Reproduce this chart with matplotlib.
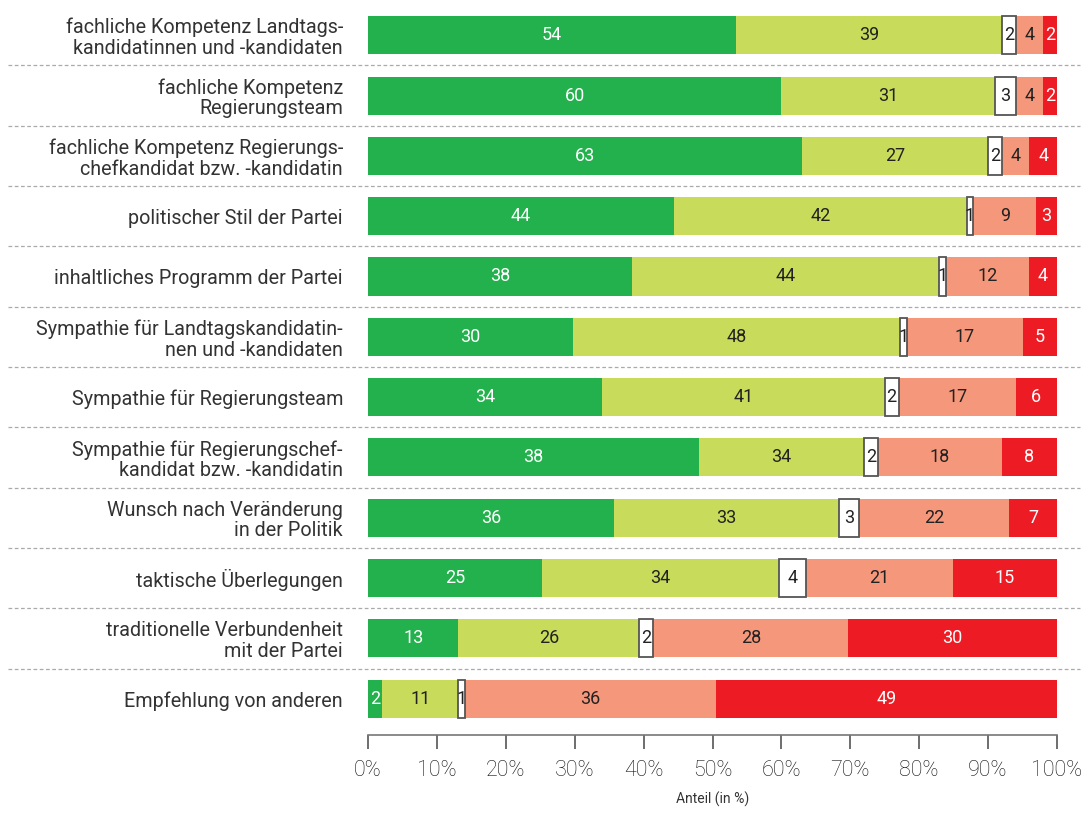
import matplotlib
matplotlib.use("Agg")
from matplotlib import pyplot as plt
import numpy as np

plt.rcParams['font.family'] = ['Roboto', 'DejaVu Sans']

categories = [
    "fachliche Kompetenz Landtags-\nkandidatinnen und -kandidaten",
    "fachliche Kompetenz\nRegierungsteam",
    "fachliche Kompetenz Regierungs-\nchefkandidat bzw. -kandidatin",
    "politischer Stil der Partei",
    "inhaltliches Programm der Partei",
    "Sympathie für Landtagskandidatin-\nnen und -kandidaten",
    "Sympathie für Regierungsteam",
    "Sympathie für Regierungschef-\nkandidat bzw. -kandidatin",
    "Wunsch nach Veränderung\nin der Politik",
    "taktische Überlegungen",
    "traditionelle Verbundenheit\nmit der Partei",
    "Empfehlung von anderen",
]

# printed values
sehr_wichtig = [54, 60, 63, 44, 38, 30, 34, 38, 36, 25, 13, 2]
eher_wichtig = [39, 31, 27, 42, 44, 48, 41, 34, 33, 34, 26, 11]
weiss_nicht = [2, 3, 2, 1, 1, 1, 2, 2, 3, 4, 2, 1]
eher_unwichtig = [4, 4, 4, 9, 12, 17, 17, 18, 22, 21, 28, 36]
unwichtig = [2, 2, 4, 3, 4, 5, 6, 8, 7, 15, 30, 49]

# bar lengths as drawn in the original (row 8 differs from its labels)
drawn_sehr = [54, 60, 63, 44, 38, 30, 34, 48, 36, 25, 13, 2]
drawn_eher = [39, 31, 27, 42, 44, 48, 41, 24, 33, 34, 26, 11]

ticks = [0, 10, 20, 30, 40, 50, 60, 70, 80, 90, 100]
xlabel = "Anteil (in %)"

colors = ['#22b14c', '#c8db5b', '#ffffff', '#f5977a', '#ed1c24']
text_colors = ['white', '#222222', '#222222', '#222222', 'white']

labels = [sehr_wichtig, eher_wichtig, weiss_nicht, eher_unwichtig, unwichtig]
widths = np.array([drawn_sehr, drawn_eher, weiss_nicht, eher_unwichtig, unwichtig], dtype=float)
widths = widths / widths.sum(axis=0) * 100

fig = plt.figure(figsize=(10.85, 8.13), dpi=100)
ax = fig.add_axes([368 / 1085, 78 / 813, 689 / 1085, 733 / 813])

y = np.arange(len(categories))
left = np.zeros(len(categories))
for k in range(5):
    if k == 2:
        ax.barh(y, widths[k], left=left, height=0.63, color=colors[k],
                edgecolor='#555555', linewidth=1.3, zorder=3)
    else:
        ax.barh(y, widths[k], left=left, height=0.63, color=colors[k],
                linewidth=0, zorder=2)
    for i in range(len(categories)):
        ax.text(left[i] + widths[k][i] / 2, y[i], str(labels[k][i]),
                ha='center', va='center', fontsize=13,
                color=text_colors[k], zorder=4)
    left += widths[k]

# dashed separators between rows
for i in range(len(categories) - 1):
    ax.axhline(i + 0.5, xmin=(8 - 368) / 689, xmax=(1080 - 368) / 689,
               color='#aaaaaa', linestyle=(0, (3, 2)), linewidth=0.9,
               clip_on=False)

ax.set_xlim(0, 100)
ax.set_ylim(11.6, -0.55)
ax.set_yticks(y)
ax.set_yticklabels(categories, fontsize=14.2, color='#333333', linespacing=1.1)
ax.tick_params(axis='y', length=0, pad=18)
ax.set_xticks(ticks)
ax.set_xticklabels([f"{t}%" for t in ticks], fontsize=15.5, color='#111111',
                   fontweight='light')
ax.tick_params(axis='x', length=10, width=1.2, color='#555555', pad=8)
ax.set_xlabel(xlabel, fontsize=10, color='#333333', labelpad=8)

for s in ['top', 'right', 'left']:
    ax.spines[s].set_visible(False)
ax.spines['bottom'].set_color('#777777')
ax.spines['bottom'].set_linewidth(1.2)

plt.savefig("out.png", dpi=100)
